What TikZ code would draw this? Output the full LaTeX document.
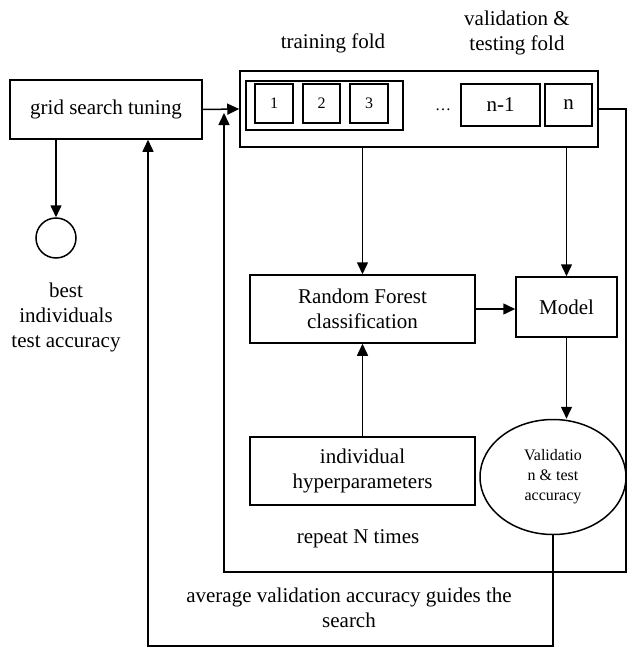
\documentclass[tikz,border=0pt]{standalone}
\usepackage{fontspec}
\setmainfont{Liberation Serif}
\usetikzlibrary{arrows.meta,shapes.geometric,calc}
\tikzset{>={Triangle[length=12pt,width=11pt]}}
\tikzset{box/.style={draw,line width=1.5pt,inner sep=0pt,align=center},
  conn/.style={->,line width=1.5pt}}
\newcommand*{\bg}{\fontsize{21}{25}\selectfont}
\newcommand*{\sml}{\fontsize{16}{20}\selectfont}

\begin{document}
\begin{tikzpicture}[x=1pt,y=-1pt,font=\bg]
\useasboundingbox (0,0) rectangle (628,651);
\node[box,minimum width=192,minimum height=59] (grid) at (106,109.5)
  {grid search tuning};
\node[box,minimum width=358,minimum height=76] (folds) at (419,109) {};
\node[box,minimum width=157,minimum height=49] (train) at (324.5,105.5) {};
\node[box,font=\sml,minimum width=38,minimum height=39] (f1) at (274,103.5) {1};
\node[box,font=\sml,minimum width=37,minimum height=39] (f2) at (321.5,103.5) {2};
\node[box,font=\sml,minimum width=38,minimum height=39] (f3) at (369,103.5) {3};
\node[font=\sml] (dots) at (443,110) {\dots};
\node[box,minimum width=79,minimum height=42] (fn1) at (500.5,105) {n-1};
\node[box,minimum width=47,minimum height=42] (fn) at (568.5,105) {n};
\node (trlab) at (333,43) {training fold};
\node[align=center] (vallab) at (517,33) {validation \&\\testing fold};
\node[draw,line width=1.5pt,circle,minimum size=40,inner sep=0pt] (best) at (56,238) {};
\node[align=center] (bestlab) at (66,317) {best\\individuals\\test accuracy};
\node[box,minimum width=225,minimum height=68] (rf) at (362.5,309)
  {Random Forest\\classification};
\node[box,minimum width=101,minimum height=60] (model) at (566.5,307) {Model};
\node[box,ellipse,font=\sml,minimum width=146,minimum height=115] (acc) at (553,477)
  {Validatio\\n \& test\\accuracy};
\node[box,minimum width=225,minimum height=68] (hyper) at (362.5,471)
  {individual\\hyperparameters};
\node (rep) at (358,539) {repeat N times};
\node[align=center] (avg) at (349,608)
  {average validation accuracy guides the\\search};
% main flow
\draw[conn] (grid.east) -- (folds.west);
\draw[conn] (grid.south -| best.north) -- (best.north);
\draw[conn] (folds.south -| rf.north) -- (rf.north);
\draw[conn] (folds.south -| model.north) -- (model.north);
\draw[conn] (rf.east) -- (rf.east -| model.west);
\draw[conn] (hyper.north) -- (hyper.north |- rf.south);
\draw[conn] (model.south) -- (model.south |- acc.north);
% repeat loop
\coordinate (loopR) at (626,109);
\coordinate (loopB) at (224,572);
\coordinate (loopT) at (224,113);
\draw[conn] (folds.east) -- (loopR) |- (loopB) -- (loopT);
% search loop
\coordinate (srchB) at (acc.south |- 0,646);
\draw[conn] (acc.south) -- (srchB) -| ($(grid.south)+(42,0)$);
\end{tikzpicture}
\end{document}
